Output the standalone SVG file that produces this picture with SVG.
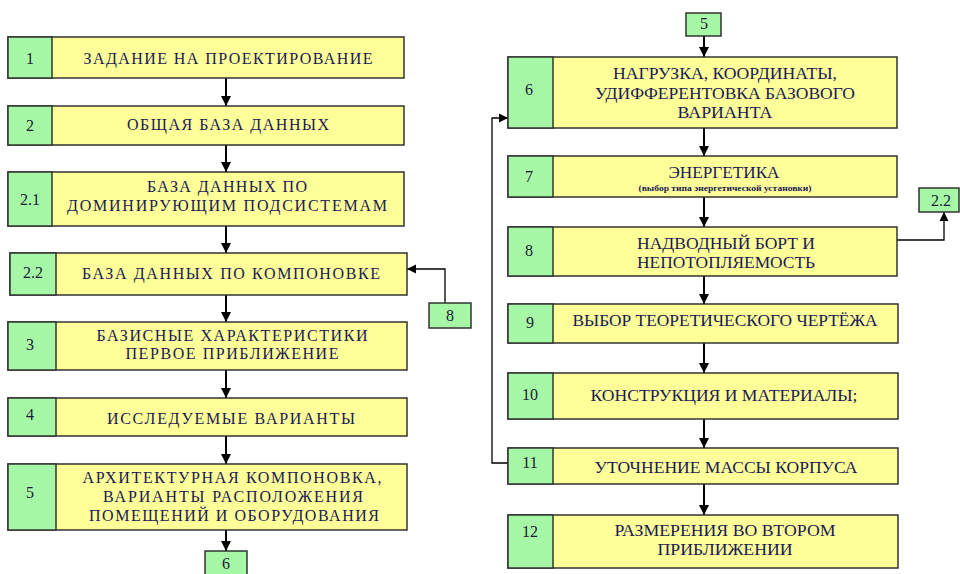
<svg xmlns="http://www.w3.org/2000/svg" width="960" height="574" viewBox="0 0 960 574">
<defs>
<style>
.y{fill:#FFFF99;stroke:#333;stroke-width:1.5}
.g{fill:#A6F8A6;stroke:#333;stroke-width:1.5}
text{font-family:"Liberation Serif","DejaVu Serif",serif}
.t{font-size:16px;fill:#1a1a55;text-anchor:middle}
.r{font-size:17px;fill:#1a1a55;text-anchor:middle}
.n{font-size:16px;fill:#1a1a33;text-anchor:middle}
.s{font-size:7.5px;fill:#1a1a55;text-anchor:middle;font-weight:bold}
.c{fill:none;stroke:#000;stroke-width:2}
.c1{fill:none;stroke:#000;stroke-width:1.3}
</style>
<marker id="ah" viewBox="0 0 10 10" refX="10" refY="5" markerWidth="5" markerHeight="5" orient="auto" markerUnits="strokeWidth"><path d="M0,0L10,5L0,10z" fill="#000"/></marker>
<marker id="ah2" viewBox="0 0 10 10" refX="10" refY="5" markerWidth="7" markerHeight="7" orient="auto" markerUnits="strokeWidth"><path d="M0,0L10,5L0,10z" fill="#000"/></marker>
</defs>
<g id="connectors">
<path class="c" d="M226,78V106" marker-end="url(#ah)"/>
<path class="c" d="M226,145V172" marker-end="url(#ah)"/>
<path class="c" d="M226,226V253" stroke-width="2.6" marker-end="url(#ah)"/>
<path class="c" d="M226,295V322" stroke-width="2.6" marker-end="url(#ah)"/>
<path class="c" d="M226,370V398" marker-end="url(#ah)"/>
<path class="c" d="M226,436V464" marker-end="url(#ah)"/>
<path class="c" d="M226,530V551" marker-end="url(#ah)"/>
<path class="c1" d="M445,303V269H407" marker-end="url(#ah2)"/>
<path class="c" d="M704,36V57" marker-end="url(#ah)"/>
<path class="c" d="M704,128V156" marker-end="url(#ah)"/>
<path class="c" d="M704,197V227" marker-end="url(#ah)"/>
<path class="c" d="M704,276V304" marker-end="url(#ah)"/>
<path class="c" d="M704,343V373" marker-end="url(#ah)"/>
<path class="c" d="M704,419V448" marker-end="url(#ah)"/>
<path class="c" d="M704,484V515" marker-end="url(#ah)"/>
<path class="c1" d="M508,463H492V118H508" marker-end="url(#ah2)"/>
<path class="c1" d="M895,240H944V212" marker-end="url(#ah2)"/>
</g>
<g id="n1"><rect class="y" x="8" y="37" width="396" height="41"/><rect class="g" x="8" y="37" width="44" height="41"/><text class="n" x="30" y="64">1</text><text class="t" x="228" y="64" textLength="289" lengthAdjust="spacing">ЗАДАНИЕ НА ПРОЕКТИРОВАНИЕ</text></g>
<g id="n2"><rect class="y" x="8" y="106" width="396" height="39"/><rect class="g" x="8" y="106" width="44" height="39"/><text class="n" x="30" y="131">2</text><text class="t" x="228" y="130" textLength="202" lengthAdjust="spacing">ОБЩАЯ БАЗА ДАННЫХ</text></g>
<g id="n21"><rect class="y" x="8" y="172" width="396" height="54"/><rect class="g" x="8" y="172" width="44" height="54"/><text class="n" x="30" y="205">2.1</text><text class="t" x="227" y="192" textLength="160" lengthAdjust="spacing">БАЗА ДАННЫХ ПО</text><text class="t" x="227" y="211" textLength="320" lengthAdjust="spacing">ДОМИНИРУЮЩИМ ПОДСИСТЕМАМ</text></g>
<g id="n22"><rect class="y" x="10" y="253" width="397" height="42"/><rect class="g" x="10" y="253" width="46" height="42"/><text class="n" x="33" y="278">2.2</text><text class="t" x="231" y="279" textLength="298" lengthAdjust="spacing">БАЗА ДАННЫХ ПО КОМПОНОВКЕ</text></g>
<g id="n8a"><rect class="g" x="429" y="303" width="42" height="25"/><text class="n" x="450" y="321">8</text></g>
<g id="n3"><rect class="y" x="8" y="322" width="399" height="48"/><rect class="g" x="8" y="322" width="48" height="48"/><text class="n" x="30" y="350">3</text><text class="t" x="232" y="341" textLength="271" lengthAdjust="spacing">БАЗИСНЫЕ ХАРАКТЕРИСТИКИ</text><text class="t" x="232" y="359" textLength="213" lengthAdjust="spacing">ПЕРВОЕ ПРИБЛИЖЕНИЕ</text></g>
<g id="n4"><rect class="y" x="8" y="398" width="399" height="38"/><rect class="g" x="8" y="398" width="48" height="38"/><text class="n" x="30" y="420">4</text><text class="t" x="231" y="424" textLength="248" lengthAdjust="spacing">ИССЛЕДУЕМЫЕ ВАРИАНТЫ</text></g>
<g id="n5"><rect class="y" x="8" y="464" width="399" height="66"/><rect class="g" x="8" y="464" width="48" height="66"/><text class="n" x="30" y="498">5</text><text class="t" x="232" y="483" textLength="299" lengthAdjust="spacing">АРХИТЕКТУРНАЯ КОМПОНОВКА,</text><text class="t" x="233" y="502" textLength="260" lengthAdjust="spacing">ВАРИАНТЫ РАСПОЛОЖЕНИЯ</text><text class="t" x="234" y="521" textLength="290" lengthAdjust="spacing">ПОМЕЩЕНИЙ И ОБОРУДОВАНИЯ</text></g>
<g id="n6a"><rect class="g" x="205" y="551" width="42" height="30"/><text class="n" x="226" y="569">6</text></g>
<g id="n5a"><rect class="g" x="686" y="13" width="35" height="23"/><text class="n" x="704" y="29">5</text></g>
<g id="n6"><rect class="y" x="508" y="57" width="389" height="71"/><rect class="g" x="508" y="57" width="45" height="71"/><text class="n" x="529" y="95">6</text><text class="r" x="725" y="79" textLength="224" lengthAdjust="spacingAndGlyphs">НАГРУЗКА, КООРДИНАТЫ,</text><text class="r" x="725" y="99" textLength="260" lengthAdjust="spacingAndGlyphs">УДИФФЕРЕНТОВКА БАЗОВОГО</text><text class="r" x="725" y="118" textLength="95" lengthAdjust="spacingAndGlyphs">ВАРИАНТА</text></g>
<g id="n7"><rect class="y" x="508" y="156" width="389" height="41"/><rect class="g" x="508" y="156" width="45" height="41"/><text class="n" x="529" y="182">7</text><text class="r" x="724" y="178" textLength="111" lengthAdjust="spacingAndGlyphs">ЭНЕРГЕТИКА</text><text class="s" x="725" y="191" textLength="173" lengthAdjust="spacingAndGlyphs">(выбор типа энергетической установки)</text></g>
<g id="n8"><rect class="y" x="508" y="227" width="389" height="49"/><rect class="g" x="508" y="227" width="45" height="49"/><text class="n" x="529" y="256">8</text><text class="r" x="726" y="249" textLength="178" lengthAdjust="spacingAndGlyphs">НАДВОДНЫЙ БОРТ И</text><text class="r" x="726" y="268" textLength="178" lengthAdjust="spacingAndGlyphs">НЕПОТОПЛЯЕМОСТЬ</text></g>
<g id="n22a"><rect class="g" x="919" y="188" width="40" height="24"/><text class="n" x="941" y="206">2.2</text></g>
<g id="n9"><rect class="y" x="508" y="304" width="390" height="39"/><rect class="g" x="508" y="304" width="45" height="39"/><text class="n" x="530" y="328">9</text><text class="r" x="725" y="326" textLength="305" lengthAdjust="spacingAndGlyphs">ВЫБОР ТЕОРЕТИЧЕСКОГО ЧЕРТЁЖА</text></g>
<g id="n10"><rect class="y" x="508" y="373" width="390" height="46"/><rect class="g" x="508" y="373" width="45" height="46"/><text class="n" x="530" y="400">10</text><text class="r" x="724" y="401" textLength="267" lengthAdjust="spacingAndGlyphs">КОНСТРУКЦИЯ И МАТЕРИАЛЫ;</text></g>
<g id="n11"><rect class="y" x="508" y="448" width="390" height="36"/><rect class="g" x="508" y="448" width="45" height="36"/><text class="n" x="530" y="468">11</text><text class="r" x="726" y="473" textLength="263" lengthAdjust="spacingAndGlyphs">УТОЧНЕНИЕ МАССЫ КОРПУСА</text></g>
<g id="n12"><rect class="y" x="508" y="515" width="390" height="53"/><rect class="g" x="508" y="515" width="45" height="53"/><text class="n" x="530" y="537">12</text><text class="r" x="725" y="536" textLength="221" lengthAdjust="spacingAndGlyphs">РАЗМЕРЕНИЯ ВО ВТОРОМ</text><text class="r" x="725" y="555" textLength="135" lengthAdjust="spacingAndGlyphs">ПРИБЛИЖЕНИИ</text></g>
</svg>
